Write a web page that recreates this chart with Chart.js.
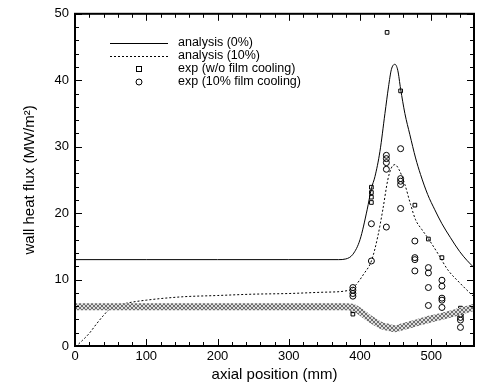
<!DOCTYPE html>
<html>
<head>
<meta charset="utf-8">
<script src="https://cdn.jsdelivr.net/npm/chart.js@4/dist/chart.umd.min.js"></script>
<style>
  html, body { margin: 0; padding: 0; background: #fff; }
  #wrap { width: 479px; height: 388px; }
</style>
</head>
<body>
<div id="wrap"><canvas id="heatChart" width="479" height="388"></canvas></div>
<script>
// axial position (mm) / wall heat flux (MW/m2)
const xTicks = [0, 100, 200, 300, 400, 500];
const yTicks = [0, 10, 20, 30, 40, 50];

const solidX = [0, 100, 200, 300, 370, 380, 390, 400, 410, 416, 421, 428, 435, 440, 444, 449, 453, 457, 463, 470, 478, 485, 495, 505, 515, 527, 540, 550, 560];
const solidY = [13, 13, 13, 13, 13, 13.1, 13.8, 16, 20.5, 23.7, 25.5, 29.3, 35, 39, 41.6, 42.4, 41.5, 38.7, 35, 31.8, 28.3, 25.8, 22.8, 20.5, 18.4, 16.3, 14.2, 12.9, 11.8];

const dashX = [5, 10, 20, 30, 40, 50, 60, 75, 100, 150, 200, 250, 300, 350, 385, 395, 405, 416, 425, 432, 439, 444, 449, 455, 463, 471, 478, 487, 495, 510, 523, 540, 555, 560];
const dashY = [0.3, 0.8, 1.9, 3.3, 4.6, 5.7, 6.1, 6.5, 6.9, 7.4, 7.6, 7.8, 7.9, 8.1, 8.4, 9.3, 10.8, 12.8, 16.5, 20.5, 25, 26.8, 27.3, 26.5, 24.3, 21.3, 19.0, 17.5, 16.3, 13.8, 11.5, 9.5, 7.9, 7.4];

const bandX = [0, 100, 200, 300, 380, 390, 400, 410, 420, 430, 440, 449, 460, 480, 500, 520, 540, 560];
const bandY = [5.9, 5.9, 5.9, 5.9, 5.9, 5.8, 5.2, 4.4, 3.7, 3.1, 2.8, 2.6, 2.9, 3.5, 4.1, 4.6, 5.2, 5.8];

const sqX = [390, 390, 416, 416, 416, 416, 438, 457, 477, 496, 515, 541, 541];
const sqY = [5.3, 4.8, 23.9, 23.1, 22.4, 21.6, 47.2, 38.4, 21.2, 16.1, 13.3, 5.7, 5.1];

const circX = [390, 390, 390, 390, 416, 416, 437, 437, 437, 437, 437, 457, 457, 457, 457, 457, 477, 477, 477, 477, 496, 496, 496, 496, 515, 515, 515, 515, 515, 541, 541, 541, 541];
const circY = [8.8, 8.4, 7.9, 7.5, 18.4, 12.8, 28.7, 28.2, 27.6, 26.6, 17.9, 29.7, 25.2, 24.8, 24.3, 20.7, 15.8, 13.3, 13.0, 11.3, 11.8, 11.0, 8.8, 6.1, 9.9, 9.0, 7.2, 6.9, 5.8, 4.8, 4.3, 3.9, 2.8];

const legendLabels = ["analysis (0%)", "analysis (10%)", "exp (w/o film cooling)", "exp (10% film cooling)"];

const FONT = "'Liberation Sans', Arial, sans-serif";

const pts = (xs, ys) => xs.map((x, i) => ({ x, y: ys[i] }));

function hatchPattern() {
  const c = document.createElement("canvas");
  c.width = 4;
  c.height = 4;
  const g = c.getContext("2d");
  g.fillStyle = "#dcdcdc";
  g.fillRect(0, 0, 4, 4);
  g.fillStyle = "#707070";
  [[0, 0], [1, 1], [2, 2], [3, 3], [3, 0], [2, 1], [1, 2], [0, 3]].forEach(([a, b]) => g.fillRect(a, b, 1, 1));
  return g.createPattern(c, "repeat");
}

// inward ticks on all four sides + heavy frame
const frameTicks = {
  id: "frameTicks",
  afterDatasetsDraw(chart) {
    const { ctx, chartArea: a, scales: { x, y } } = chart;
    ctx.save();
    ctx.strokeStyle = "#000";
    ctx.lineWidth = 1;
    ctx.beginPath();
    for (let v = 0; v <= 560; v += 20) {
      const px = Math.round(x.getPixelForValue(v)) + 0.5;
      const len = v % 100 === 0 ? 7 : 4;
      ctx.moveTo(px, a.bottom); ctx.lineTo(px, a.bottom - len);
      ctx.moveTo(px, a.top); ctx.lineTo(px, a.top + len);
    }
    for (let v = 0; v <= 50; v += 2) {
      const py = Math.round(y.getPixelForValue(v)) + 0.5;
      const len = v % 10 === 0 ? 7 : 4;
      ctx.moveTo(a.left, py); ctx.lineTo(a.left + len, py);
      ctx.moveTo(a.right, py); ctx.lineTo(a.right - len, py);
    }
    ctx.stroke();
    ctx.lineWidth = 2;
    ctx.strokeRect(a.left, a.top, a.right - a.left, a.bottom - a.top);
    ctx.restore();
  },
};

const legendBox = {
  id: "legendBox",
  afterDraw(chart) {
    const { ctx } = chart;
    const rows = [43, 56, 69, 82];
    ctx.save();
    ctx.font = `12.5px ${FONT}`;
    ctx.fillStyle = "#000";
    ctx.textBaseline = "middle";
    legendLabels.forEach((t, i) => ctx.fillText(t, 178, rows[i]));
    ctx.strokeStyle = "#000";
    ctx.lineWidth = 1;
    ctx.beginPath();
    ctx.moveTo(110, rows[0] + 0.5); ctx.lineTo(168, rows[0] + 0.5);
    ctx.stroke();
    ctx.setLineDash([2, 2]);
    ctx.beginPath();
    ctx.moveTo(110, rows[1] + 0.5); ctx.lineTo(168, rows[1] + 0.5);
    ctx.stroke();
    ctx.setLineDash([]);
    ctx.strokeRect(136.5, rows[2] - 2.5, 5, 5);
    ctx.beginPath();
    ctx.arc(139, rows[3], 3, 0, Math.PI * 2);
    ctx.stroke();
    ctx.restore();
  },
};

const setTicks = (vals) => (scale) => { scale.ticks = vals.map((v) => ({ value: v })); };

new Chart(document.getElementById("heatChart"), {
  type: "scatter",
  data: {
    datasets: [
      {
        data: pts(bandX, bandY),
        showLine: true,
        borderColor: hatchPattern(),
        borderWidth: 7,
        pointRadius: 0,
        cubicInterpolationMode: "monotone",
      },
      {
        data: pts(solidX, solidY),
        showLine: true,
        borderColor: "#000",
        borderWidth: 1,
        pointRadius: 0,
        cubicInterpolationMode: "monotone",
      },
      {
        data: pts(dashX, dashY),
        showLine: true,
        borderColor: "#000",
        borderWidth: 1,
        borderDash: [2, 2],
        pointRadius: 0,
        cubicInterpolationMode: "monotone",
      },
      {
        data: pts(sqX, sqY),
        pointStyle: "rect",
        pointRadius: 2.6,
        borderColor: "#000",
        borderWidth: 1,
        backgroundColor: "rgba(0,0,0,0)",
      },
      {
        data: pts(circX, circY),
        pointStyle: "circle",
        pointRadius: 3,
        borderColor: "#000",
        borderWidth: 1,
        backgroundColor: "rgba(0,0,0,0)",
      },
    ],
  },
  options: {
    responsive: false,
    animation: false,
    layout: { padding: { top: 12, right: 2, left: 0, bottom: 0 } },
    plugins: { legend: { display: false }, tooltip: { enabled: false } },
    scales: {
      x: {
        type: "linear",
        min: 0,
        max: 560,
        afterFit: (s) => { s.height = 42; },
        afterBuildTicks: setTicks(xTicks),
        grid: { display: false, drawTicks: false },
        border: { display: false },
        ticks: { color: "#000", padding: 3, font: { family: FONT, size: 13 } },
        title: {
          display: true,
          text: "axial position (mm)",
          color: "#000",
          font: { family: FONT, size: 15 },
          padding: { top: 0, bottom: 4 },
        },
      },
      y: {
        type: "linear",
        min: 0,
        max: 50,
        afterFit: (s) => { s.width = 75; },
        afterBuildTicks: setTicks(yTicks),
        grid: { display: false, drawTicks: false },
        border: { display: false },
        ticks: { color: "#000", padding: 6, font: { family: FONT, size: 13 } },
        title: {
          display: true,
          text: "wall heat flux (MW/m²)",
          color: "#000",
          font: { family: FONT, size: 15 },
          padding: { top: 21, bottom: 0 },
        },
      },
    },
  },
  plugins: [frameTicks, legendBox],
});
</script>
</body>
</html>
